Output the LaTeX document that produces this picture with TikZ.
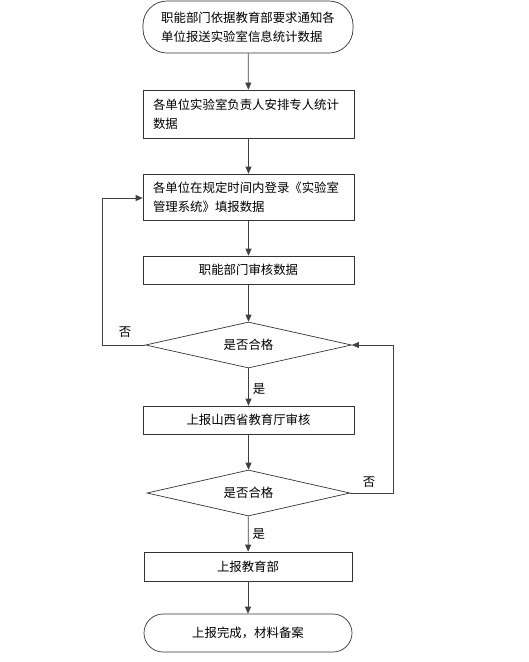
\documentclass[tikz,border=0pt]{standalone}
\usepackage{fontspec}
\setmainfont{Noto Sans CJK SC}
\usetikzlibrary{shapes.geometric,arrows.meta}
\begin{document}
\begin{tikzpicture}[x=1pt,y=-1pt,
  every node/.style={font=\fontsize{12.4}{19}\selectfont, inner sep=0pt},
  term/.style={draw=black!80, line width=0.7pt, rounded corners=24pt, minimum width=210pt, align=left},
  proc/.style={draw=black!80, line width=0.7pt, minimum width=211pt},
  dec/.style={draw=black!80, line width=0.7pt, diamond, aspect=4.4, minimum width=206pt, minimum height=46pt},
  conn/.style={draw=black!75, line width=0.7pt, -{Triangle[length=7pt,width=6pt]}},
  lab/.style={font=\fontsize{12.4}{14}\selectfont}]
\useasboundingbox (0,0) rectangle (528,662);
\node[term, minimum height=52pt] (t1) at (248,27) {职能部门依据教育部要求通知各\\单位报送实验室信息统计数据};
\node[proc, minimum height=48pt, text width=191pt, align=left] (b2) at (248.5,114) {各单位实验室负责人安排专人统计\\数据};
\node[proc, minimum height=46pt, text width=191pt, align=left] (b3) at (248.5,197) {各单位在规定时间内登录《实验室\\管理系统》填报数据};
\node[proc, minimum height=28pt] (b4) at (248.5,270) {职能部门审核数据};
\node[dec] (d1) at (248.5,345) {是否合格};
\node[proc, minimum height=28pt] (b5) at (248.5,420) {上报山西省教育厅审核};
\node[dec, minimum width=203pt] (d2) at (248.5,493) {是否合格};
\node[proc, minimum height=29pt, minimum width=208pt] (b6) at (248,566.5) {上报教育部};
\node[term, minimum height=38pt, minimum width=208pt, rounded corners=19pt] (t2) at (248,633) {上报完成，材料备案};
\coordinate (l1) at (102,345);
\coordinate (l2) at (102,198);
\coordinate (r1) at (393,493);
\coordinate (r2) at (393,345);
\draw[conn] (t1) -- (b2);
\draw[conn] (b2) -- (b3);
\draw[conn] (b3) -- (b4);
\draw[conn] (b4) -- (d1);
\draw[conn] (d1) -- node[lab, right=4pt, pos=0.55] {是} (b5);
\draw[conn] (b5) -- (d2);
\draw[conn] (d2) -- node[lab, right=4pt, pos=0.5] {是} (b6);
\draw[conn] (b6) -- (t2);
\draw[conn] (d1.west) -- (l1) -- (l2) -- (b3.west |- l2);
\draw[conn] (d2.east) -- (r1) -- (r2) -- (d1.east);
\node[lab] (n1) at (125,332) {否};
\node[lab] (n2) at (369,482) {否};
\end{tikzpicture}
\end{document}
